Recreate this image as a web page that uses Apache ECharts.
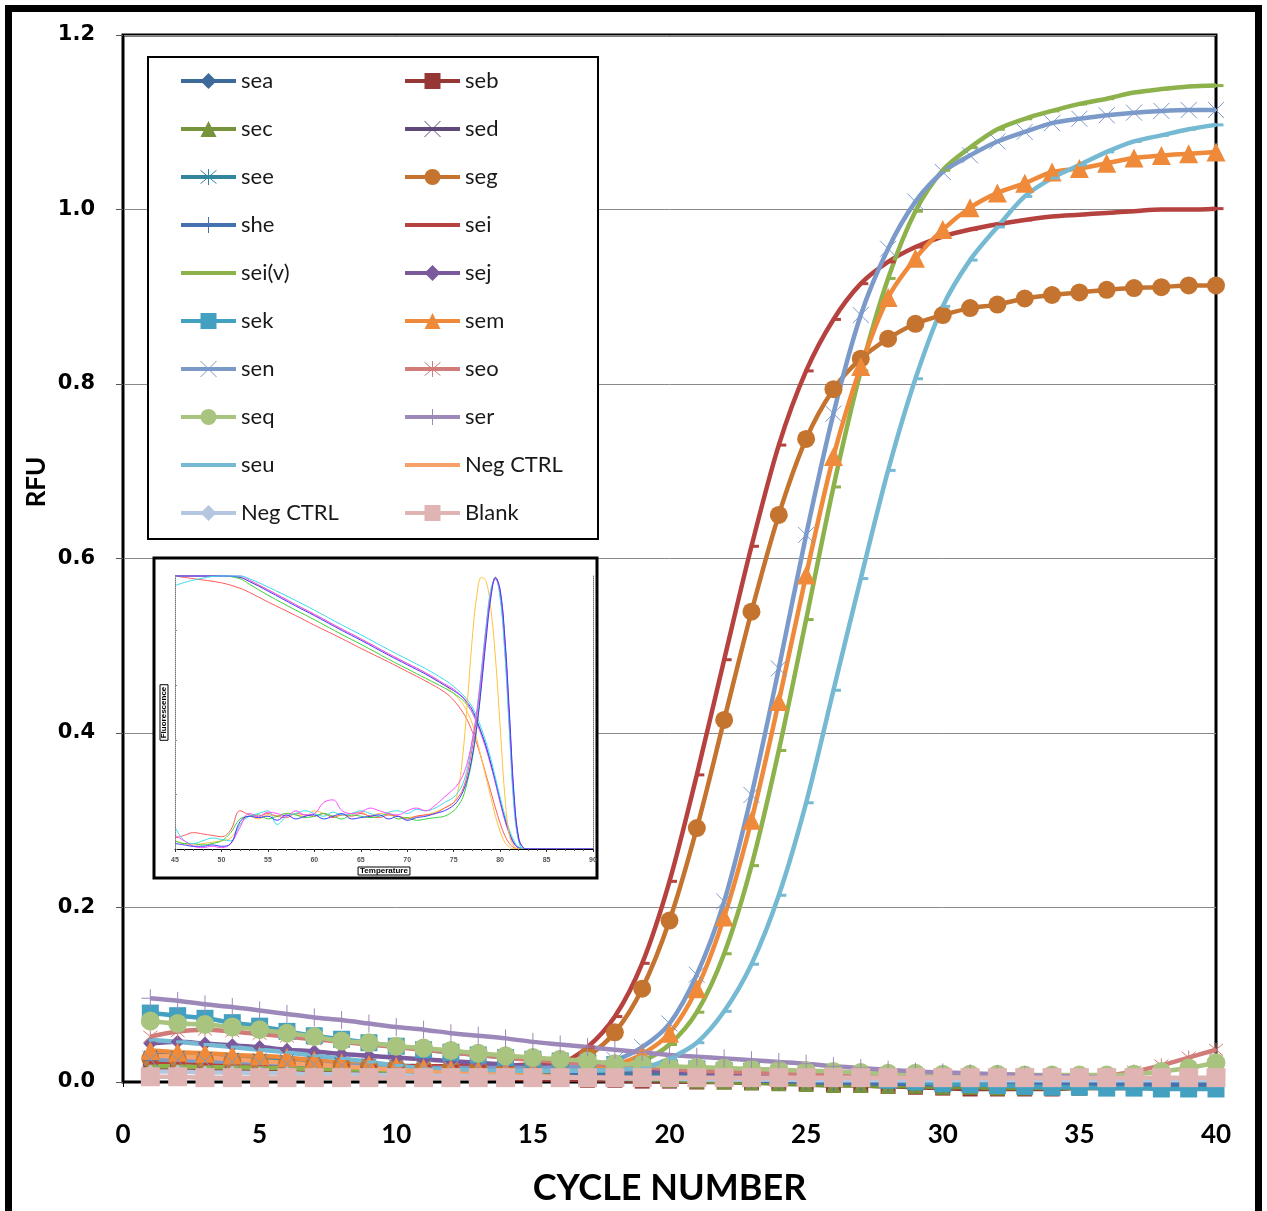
<!DOCTYPE html>
<html><head><meta charset="utf-8">
<script src="https://cdn.jsdelivr.net/npm/echarts@6/dist/echarts.min.js"></script>
<style>html,body{margin:0;padding:0;background:#fff}#c{width:1267px;height:1211px}</style>
</head><body><div id="c"></div>
<script>
// ---------- main chart data ----------
const cycles = [1,2,3,4,5,6,7,8,9,10,11,12,13,14,15,16,17,18,19,20,21,22,23,24,25,26,27,28,29,30,31,32,33,34,35,36,37,38,39,40];
const xTicks = [0,5,10,15,20,25,30,35,40];
const yTicks = [0,0.2,0.4,0.6,0.8,1.0,1.2];

const sea = [0.032,0.031,0.030,0.028,0.027,0.025,0.023,0.021,0.019,0.017,0.015,0.013,0.012,0.011,0.010,0.009,0.008,0.007,0.006,0.005,0.004,0.003,0.002,0.001,0.000,-0.001,-0.002,-0.002,-0.003,-0.003,-0.003,-0.004,-0.004,-0.004,-0.004,-0.004,-0.004,-0.004,-0.004,-0.004];
const seb = [0.015,0.015,0.014,0.014,0.013,0.012,0.011,0.010,0.009,0.008,0.007,0.006,0.005,0.004,0.003,0.003,0.002,0.002,0.001,0.001,0.000,0.000,-0.001,-0.001,-0.002,-0.003,-0.004,-0.005,-0.006,-0.007,-0.008,-0.008,-0.008,-0.008,-0.007,-0.007,-0.007,-0.006,-0.006,-0.006];
const sec = [0.020,0.020,0.019,0.018,0.017,0.016,0.015,0.014,0.013,0.012,0.011,0.010,0.009,0.008,0.007,0.006,0.005,0.004,0.003,0.002,0.001,0.000,-0.001,-0.002,-0.003,-0.004,-0.004,-0.005,-0.005,-0.006,-0.006,-0.007,-0.007,-0.007,-0.007,-0.007,-0.007,-0.007,-0.007,-0.007];
const sed = [0.028,0.028,0.027,0.026,0.025,0.024,0.022,0.020,0.019,0.017,0.016,0.014,0.013,0.012,0.011,0.010,0.009,0.008,0.007,0.006,0.006,0.005,0.005,0.004,0.004,0.003,0.003,0.002,0.002,0.002,0.001,0.001,0.001,0.001,0.001,0.001,0.001,0.001,0.001,0.001];
const see = [0.030,0.029,0.028,0.027,0.026,0.025,0.024,0.022,0.021,0.019,0.018,0.017,0.016,0.015,0.014,0.013,0.012,0.011,0.010,0.009,0.008,0.008,0.007,0.006,0.006,0.005,0.004,0.004,0.003,0.003,0.002,0.002,0.002,0.001,0.001,0.001,0.001,0.000,0.000,0.000];
const seg = [0.027,0.026,0.025,0.024,0.022,0.021,0.020,0.019,0.018,0.017,0.016,0.016,0.016,0.017,0.018,0.020,0.030,0.057,0.107,0.185,0.291,0.415,0.539,0.650,0.737,0.794,0.829,0.852,0.869,0.879,0.887,0.891,0.898,0.902,0.905,0.908,0.910,0.911,0.913,0.913];
const she = [0.025,0.025,0.024,0.023,0.022,0.021,0.020,0.018,0.017,0.016,0.014,0.013,0.012,0.011,0.010,0.009,0.008,0.007,0.006,0.005,0.004,0.003,0.002,0.001,0.000,-0.001,-0.001,-0.002,-0.002,-0.003,-0.003,-0.003,-0.003,-0.003,-0.003,-0.003,-0.003,-0.003,-0.003,-0.003];
const sei = [0.022,0.022,0.021,0.021,0.020,0.020,0.019,0.019,0.018,0.018,0.018,0.018,0.018,0.019,0.020,0.022,0.040,0.075,0.136,0.230,0.352,0.484,0.614,0.730,0.815,0.874,0.915,0.940,0.957,0.969,0.977,0.983,0.988,0.992,0.994,0.996,0.998,1.000,1.000,1.001];
const seiv = [0.018,0.018,0.017,0.017,0.016,0.016,0.015,0.015,0.014,0.014,0.013,0.013,0.012,0.012,0.012,0.013,0.014,0.017,0.024,0.043,0.080,0.147,0.248,0.380,0.530,0.682,0.815,0.921,0.998,1.045,1.071,1.092,1.104,1.113,1.121,1.127,1.134,1.138,1.141,1.142];
const sej = [0.044,0.046,0.044,0.042,0.040,0.037,0.035,0.032,0.030,0.028,0.026,0.024,0.022,0.020,0.018,0.017,0.015,0.014,0.013,0.012,0.011,0.010,0.009,0.008,0.007,0.006,0.005,0.005,0.004,0.004,0.003,0.003,0.003,0.003,0.003,0.003,0.003,0.003,0.003,0.003];
const sek = [0.079,0.076,0.073,0.068,0.064,0.058,0.053,0.049,0.045,0.041,0.037,0.034,0.031,0.028,0.026,0.024,0.022,0.020,0.018,0.016,0.015,0.013,0.012,0.010,0.008,0.006,0.004,0.002,0.000,-0.002,-0.003,-0.004,-0.005,-0.006,-0.006,-0.007,-0.007,-0.008,-0.008,-0.008];
const sem = [0.036,0.034,0.033,0.031,0.030,0.028,0.025,0.022,0.020,0.018,0.016,0.015,0.014,0.014,0.014,0.015,0.017,0.020,0.032,0.056,0.107,0.189,0.300,0.436,0.581,0.717,0.820,0.899,0.944,0.977,1.002,1.019,1.030,1.043,1.047,1.053,1.059,1.062,1.064,1.066];
const sen = [0.026,0.025,0.024,0.023,0.022,0.021,0.020,0.019,0.018,0.017,0.016,0.016,0.016,0.016,0.016,0.017,0.019,0.025,0.040,0.067,0.123,0.207,0.329,0.474,0.627,0.766,0.879,0.955,1.009,1.043,1.062,1.078,1.089,1.099,1.104,1.108,1.111,1.113,1.114,1.114];
const seo = [0.052,0.058,0.060,0.058,0.055,0.052,0.049,0.046,0.043,0.040,0.037,0.034,0.031,0.028,0.025,0.023,0.021,0.019,0.017,0.015,0.013,0.012,0.011,0.010,0.009,0.008,0.007,0.006,0.006,0.005,0.005,0.005,0.005,0.005,0.006,0.007,0.012,0.019,0.028,0.037];
const seq = [0.070,0.067,0.066,0.063,0.060,0.056,0.052,0.047,0.045,0.041,0.039,0.036,0.033,0.030,0.028,0.026,0.024,0.021,0.020,0.018,0.017,0.016,0.015,0.014,0.013,0.012,0.011,0.010,0.010,0.009,0.009,0.009,0.008,0.008,0.008,0.008,0.009,0.012,0.016,0.022];
const ser = [0.096,0.093,0.089,0.086,0.082,0.078,0.074,0.071,0.067,0.063,0.060,0.056,0.053,0.050,0.046,0.043,0.040,0.037,0.034,0.031,0.029,0.027,0.025,0.023,0.021,0.018,0.016,0.014,0.012,0.011,0.010,0.009,0.008,0.007,0.006,0.005,0.004,0.004,0.003,0.003];
const seu = [0.048,0.046,0.043,0.040,0.037,0.034,0.030,0.027,0.023,0.019,0.015,0.014,0.013,0.013,0.013,0.013,0.013,0.014,0.016,0.027,0.045,0.081,0.135,0.214,0.320,0.449,0.577,0.701,0.806,0.889,0.942,0.980,1.015,1.036,1.051,1.066,1.078,1.085,1.092,1.097];
const negCtrlA = [0.030,0.029,0.028,0.026,0.024,0.022,0.020,0.018,0.016,0.014,0.012,0.010,0.009,0.008,0.007,0.006,0.005,0.005,0.004,0.004,0.004,0.003,0.003,0.003,0.003,0.003,0.003,0.003,0.003,0.003,0.003,0.003,0.003,0.003,0.003,0.003,0.003,0.003,0.003,0.003];
const negCtrlB = [0.012,0.012,0.011,0.011,0.010,0.010,0.009,0.009,0.008,0.008,0.007,0.007,0.006,0.006,0.005,0.005,0.005,0.004,0.004,0.004,0.003,0.003,0.003,0.003,0.002,0.002,0.002,0.002,0.002,0.002,0.002,0.002,0.002,0.002,0.002,0.002,0.002,0.002,0.002,0.002];
const blank = [0.006,0.006,0.005,0.005,0.005,0.005,0.005,0.005,0.005,0.005,0.005,0.005,0.005,0.005,0.005,0.005,0.005,0.005,0.005,0.005,0.005,0.005,0.005,0.005,0.005,0.005,0.005,0.005,0.005,0.005,0.005,0.005,0.005,0.005,0.005,0.005,0.005,0.005,0.005,0.005];

// ---------- inset (melt curve) data ----------
const fluorT = [45,47,50,52,53,55,58,60,63,65,68,70,72,74,75,76,76.5,77,77.5,78,78.5,79,79.5,80,80.5,81,81.5,82,83,90];
const fluorBlue    = [1.000,1.000,1.000,0.995,0.980,0.945,0.890,0.855,0.800,0.765,0.710,0.675,0.640,0.600,0.580,0.555,0.535,0.510,0.470,0.425,0.375,0.315,0.250,0.180,0.115,0.060,0.022,0.005,0.000,0.000];
const fluorCyan    = [0.965,0.985,1.000,1.000,0.990,0.960,0.910,0.875,0.820,0.785,0.730,0.695,0.660,0.620,0.595,0.565,0.545,0.520,0.485,0.440,0.390,0.330,0.260,0.190,0.125,0.070,0.030,0.008,0.000,0.000];
const fluorRed     = [1.000,0.990,0.975,0.955,0.940,0.905,0.855,0.820,0.770,0.735,0.685,0.650,0.615,0.575,0.545,0.500,0.470,0.430,0.385,0.330,0.270,0.210,0.150,0.095,0.050,0.020,0.005,0.000,0.000,0.000];
const fluorGreen   = [1.000,1.000,1.000,0.990,0.970,0.930,0.875,0.840,0.785,0.750,0.695,0.660,0.625,0.590,0.570,0.545,0.525,0.500,0.465,0.420,0.370,0.310,0.245,0.175,0.110,0.058,0.020,0.005,0.000,0.000];
const fluorYellow  = [1.000,1.000,1.000,0.995,0.980,0.950,0.895,0.860,0.805,0.770,0.715,0.680,0.645,0.600,0.570,0.530,0.500,0.460,0.400,0.330,0.260,0.190,0.120,0.065,0.025,0.008,0.000,0.000,0.000,0.000];
const fluorMagenta = [1.000,1.000,1.000,1.000,0.985,0.950,0.895,0.860,0.805,0.770,0.715,0.680,0.645,0.605,0.585,0.555,0.530,0.500,0.460,0.415,0.365,0.305,0.240,0.170,0.105,0.055,0.018,0.004,0.000,0.000];

const derivT = [45,46,47,48,49,50,51,52,53,54,55,56,57,58,59,60,61,62,63,64,65,66,67,68,69,70,71,72,73,74,75,75.5,76,76.5,77,77.5,78,78.5,79,79.5,80,80.5,81,81.5,82,82.5,83,85,90];
const derivBlue    = [0.020,0.015,0.010,0.010,0.015,0.010,0.020,0.100,0.120,0.115,0.120,0.105,0.125,0.110,0.120,0.125,0.110,0.120,0.130,0.110,0.115,0.120,0.125,0.110,0.120,0.105,0.115,0.120,0.130,0.140,0.160,0.180,0.210,0.260,0.340,0.450,0.600,0.770,0.920,0.995,0.950,0.780,0.500,0.200,0.040,0.005,0.000,0.000,0.000];
const derivRed     = [0.040,0.050,0.060,0.055,0.050,0.045,0.070,0.140,0.125,0.120,0.130,0.120,0.115,0.130,0.125,0.120,0.130,0.115,0.125,0.120,0.130,0.120,0.115,0.125,0.120,0.110,0.120,0.125,0.130,0.150,0.170,0.190,0.220,0.280,0.370,0.490,0.650,0.810,0.940,0.990,0.930,0.740,0.450,0.170,0.030,0.005,0.000,0.000,0.000];
const derivCyan    = [0.080,0.030,0.020,0.030,0.040,0.035,0.030,0.090,0.120,0.130,0.140,0.090,0.120,0.130,0.140,0.130,0.120,0.135,0.125,0.130,0.140,0.130,0.120,0.135,0.140,0.130,0.145,0.140,0.150,0.170,0.190,0.210,0.240,0.300,0.390,0.510,0.660,0.820,0.950,0.990,0.920,0.720,0.430,0.150,0.030,0.000,0.000,0.000,0.000];
const derivGreen   = [0.030,0.020,0.020,0.015,0.020,0.030,0.060,0.110,0.120,0.125,0.110,0.120,0.130,0.125,0.115,0.120,0.130,0.120,0.110,0.125,0.120,0.115,0.120,0.130,0.110,0.115,0.105,0.110,0.115,0.120,0.140,0.160,0.190,0.250,0.330,0.450,0.610,0.790,0.930,0.995,0.940,0.760,0.470,0.180,0.035,0.005,0.000,0.000,0.000];
const derivMagenta = [0.050,0.030,0.010,0.005,0.010,0.005,0.020,0.080,0.130,0.120,0.135,0.130,0.120,0.140,0.125,0.130,0.170,0.180,0.140,0.130,0.135,0.150,0.140,0.130,0.125,0.140,0.150,0.140,0.160,0.190,0.220,0.240,0.270,0.320,0.400,0.500,0.640,0.800,0.930,0.990,0.945,0.770,0.480,0.190,0.040,0.005,0.000,0.000,0.000];
const derivYellow  = [0.030,0.020,0.015,0.020,0.025,0.030,0.040,0.090,0.120,0.110,0.125,0.120,0.130,0.125,0.120,0.140,0.130,0.120,0.125,0.130,0.135,0.120,0.130,0.125,0.120,0.115,0.120,0.125,0.135,0.150,0.170,0.220,0.350,0.550,0.770,0.930,0.995,0.980,0.880,0.700,0.450,0.200,0.050,0.010,0.000,0.000,0.000,0.000,0.000];

// ---------- styling ----------
const CROSS = 'path://M0,0L10,10M10,0L0,10';
const STAR  = 'path://M0,0L10,10M10,0L0,10M5,-1L5,11';
const PLUS  = 'path://M5,0L5,10M0,5L10,5';
const DASH  = 'DASH';

const defs = [
  ['sea', sea, '#3D6A99', 'diamond', 14],
  ['seb', seb, '#953735', 'rect', 15],
  ['sec', sec, '#77933C', 'triangle', 15],
  ['sed', sed, '#5F497A', CROSS, 13],
  ['see', see, '#31859C', STAR, 13],
  ['seg', seg, '#C4742F', 'circle', 18],
  ['she', she, '#4472B0', PLUS, 16],
  ['sei', sei, '#B6423F', DASH, 0],
  ['sei(v)', seiv, '#8DB14B', DASH, 0],
  ['sej', sej, '#7A5A9C', 'diamond', 14],
  ['sek', sek, '#43A0C0', 'rect', 17],
  ['sem', sem, '#EE8A3A', 'triangle', 19],
  ['sen', sen, '#7B9ACA', CROSS, 16],
  ['seo', seo, '#D27C7A', STAR, 14],
  ['seq', seq, '#A8C47E', 'circle', 19],
  ['ser', ser, '#9D88BA', PLUS, 18],
  ['seu', seu, '#75B9D2', DASH, 0],
  ['Neg CTRL', negCtrlA, '#F6A06A', 'none', 0],
  ['Neg CTRL ', negCtrlB, '#B4C6E0', 'diamond', 14],
  ['Blank', blank, '#DFB4B3', 'rect', 19]
];
const strokeSyms = [CROSS, STAR, PLUS];

const series = defs.map(([name, vals, color, sym, size]) => {
  const s = {
    name, type: 'line', xAxisIndex: 0, yAxisIndex: 0,
    data: cycles.map((c, i) => [c, vals[i]]),
    color: color,
    lineStyle: { color: color, width: 4.5 },
    smooth: 0.3, clip: false, silent: true, z: 2
  };
  if (sym === DASH) {
    s.symbol = 'rect'; s.symbolSize = [9, 3]; s.symbolOffset = [3, 0];
    s.itemStyle = { color: color };
  } else if (sym === 'none') {
    s.symbol = 'none'; s.showSymbol = false;
  } else if (strokeSyms.includes(sym)) {
    s.symbol = sym; s.symbolSize = size;
    s.itemStyle = { color: 'rgba(0,0,0,0)', borderColor: color, borderWidth: 1 };
  } else {
    s.symbol = sym; s.symbolSize = size;
    s.itemStyle = { color: color, borderWidth: 0 };
  }
  return s;
});

const insetDefs = [
  [fluorT, fluorRed, '#ff5a5a'], [fluorT, fluorYellow, '#ffc23c'], [fluorT, fluorGreen, '#3cd23c'],
  [fluorT, fluorMagenta, '#ff4cff'], [fluorT, fluorBlue, '#3c3cff'], [fluorT, fluorCyan, '#3cdce6'],
  [derivT, derivYellow, '#ffc23c'], [derivT, derivRed, '#ff5a5a'], [derivT, derivGreen, '#3cd23c'],
  [derivT, derivCyan, '#3cdce6'], [derivT, derivMagenta, '#ff4cff'], [derivT, derivBlue, '#3c3cff']
];
insetDefs.forEach(([xs, ys, color], k) => {
  series.push({
    name: 'inset' + k, type: 'line', xAxisIndex: 1, yAxisIndex: 1,
    data: xs.map((t, i) => [t, ys[i]]),
    showSymbol: false, symbol: 'none', smooth: 0.4, clip: false, silent: true, z: 6,
    lineStyle: { color: color, width: 1 }
  });
});

const noMarker = ['sei', 'sei(v)', 'seu', 'Neg CTRL'];
function legendItem(n) {
  const d = defs.find(x => x[0] === n);
  if (noMarker.includes(n)) return { name: n, itemStyle: { opacity: 0 } };
  if (strokeSyms.includes(d[3])) return { name: n, itemStyle: { borderWidth: 1 } };
  return { name: n };
}
const col1 = ['sea','sec','see','she','sei(v)','sek','sen','seq','seu','Neg CTRL '];
const col2 = ['seb','sed','seg','sei','sej','sem','seo','ser','Neg CTRL','Blank'];
const legendCommon = {
  orient: 'vertical', top: 70, padding: 0, itemWidth: 55, itemHeight: 20, itemGap: 26,
  selectedMode: false, z: 10,
  lineStyle: { width: 4 },
  textStyle: { fontFamily: 'Lato', fontSize: 22, color: '#1a1a1a' }
};

const option = {
  animation: false,
  backgroundColor: '#fff',
  grid: [
    { left: 123, right: 51, top: 35, bottom: 129, show: true, borderColor: '#000', borderWidth: 3, outerBoundsMode: 'none' },
    { left: 175, right: 674, top: 576, bottom: 362, show: false, outerBoundsMode: 'none' }
  ],
  xAxis: [
    { type: 'value', gridIndex: 0, min: xTicks[0], max: xTicks[xTicks.length - 1], interval: 5,
      axisLine: { show: true, onZero: false, lineStyle: { color: '#000', width: 2 } },
      axisTick: { show: true, length: 5, lineStyle: { color: '#000' } },
      splitLine: { show: false },
      axisLabel: { fontFamily: 'Lato', fontWeight: 'bold', fontSize: 26, color: '#000', margin: 40 },
      name: 'CYCLE NUMBER', nameLocation: 'middle', nameGap: 88,
      nameTextStyle: { fontFamily: 'Lato', fontWeight: 'bold', fontSize: 36, color: '#000' } },
    { type: 'value', gridIndex: 1, min: 45, max: 90, interval: 5, z: 8,
      axisLine: { show: true, onZero: false, lineStyle: { color: '#000', width: 1 } },
      axisTick: { show: true, length: 3, lineStyle: { color: '#333' } },
      minorTick: { show: true, splitNumber: 5, length: 2, lineStyle: { color: '#555' } },
      splitLine: { show: false },
      axisLabel: { fontSize: 7, color: '#555', margin: 8, fontWeight: 'bold' },
      name: 'Temperature', nameLocation: 'middle', nameGap: 18,
      nameTextStyle: { fontSize: 8, fontWeight: 'bold', color: '#000', borderColor: '#000', borderWidth: 1, padding: [0, 2] } }
  ],
  yAxis: [
    { type: 'value', gridIndex: 0, min: yTicks[0], max: yTicks[yTicks.length - 1], interval: 0.2,
      axisLine: { show: true, onZero: false, lineStyle: { color: '#000', width: 2 } },
      axisTick: { show: true, length: 7, lineStyle: { color: '#555' } },
      splitLine: { show: true, lineStyle: { color: '#8a8a8a', width: 1 } },
      axisLabel: { fontFamily: 'DejaVu Sans', fontWeight: 'bold', fontSize: 21, color: '#000', margin: 28,
                   formatter: v => v.toFixed(1) } },
    { type: 'value', gridIndex: 1, min: 0, max: 1, z: 8,
      axisLine: { show: true, lineStyle: { color: '#777', type: 'dotted', width: 1 } },
      axisTick: { show: true, inside: true, length: 2, lineStyle: { color: '#888' } },
      axisLabel: { show: false }, splitLine: { show: false },
      name: 'Fluorescence', nameLocation: 'middle', nameGap: 7, nameRotate: 90,
      nameTextStyle: { fontSize: 8, fontWeight: 'bold', color: '#000', borderColor: '#000', borderWidth: 1, padding: [0, 2] } },
    { type: 'value', gridIndex: 1, min: 0, max: 1, position: 'right', z: 8,
      axisLine: { show: true, lineStyle: { color: '#777', type: 'dotted', width: 1 } },
      axisTick: { show: false }, axisLabel: { show: false }, splitLine: { show: false } }
  ],
  legend: [
    Object.assign({}, legendCommon, { left: 179, data: col1.map(legendItem) }),
    Object.assign({}, legendCommon, { left: 403, data: col2.map(legendItem) })
  ],
  graphic: [
    { type: 'rect', z: 0, silent: true, shape: { x: 8.5, y: 8.5, width: 1250, height: 1230 },
      style: { fill: 'none', stroke: '#000', lineWidth: 7 } },
    { type: 'rect', z: 3, silent: true, shape: { x: 148, y: 57, width: 450, height: 482 },
      style: { fill: '#fff', stroke: '#000', lineWidth: 2 } },
    { type: 'rect', z: 3, silent: true, shape: { x: 154, y: 558, width: 443, height: 320 },
      style: { fill: '#fff', stroke: '#000', lineWidth: 3 } },
    { type: 'text', z: 5, silent: true, x: 37, y: 482, rotation: Math.PI / 2,
      style: { text: 'RFU', font: 'bold 26px Lato', fill: '#000', textAlign: 'center', textVerticalAlign: 'middle' } }
  ],
  series: series
};

const chart = echarts.init(document.getElementById('c'), null, { renderer: 'canvas' });
chart.setOption(option);
</script>
</body></html>
